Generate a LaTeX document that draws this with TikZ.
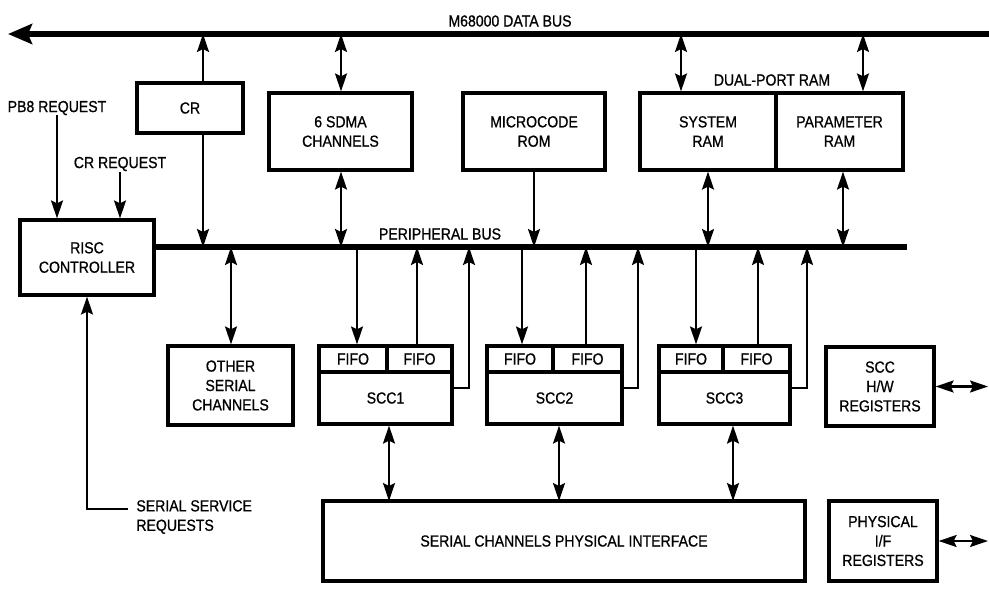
\documentclass[tikz,border=0pt]{standalone}
\usepackage{fontspec}
\setmainfont{Liberation Sans}[FakeStretch=0.88, FakeBold=0.8]
\usetikzlibrary{arrows.meta}

\tikzstyle{block} = [draw, line width=1.6pt, inner sep=0pt, align=center]
\tikzstyle{fifo} = [block, minimum height=13pt]
\tikzstyle{txt} = [inner sep=0pt, align=left]
\tikzstyle{bus} = [line width=2.6pt]
\tikzstyle{wire} = [line width=1.1pt]

\begin{document}
\begin{tikzpicture}[x=0.5pt, y=-0.5pt, font=\fontsize{8}{9.7}\selectfont,
    >={Stealth[length=9pt, width=6pt, inset=1.5pt]}]
  \useasboundingbox (0,0) rectangle (989,594);

  % top row
  \node[block, minimum width=53pt, minimum height=25pt] (cr) at (190,108) {CR};
  \node[block, minimum width=71.5pt, minimum height=38.5pt] (sdma) at (340.5,131.5) {6 SDMA\\CHANNELS};
  \node[block, minimum width=71pt, minimum height=38.5pt] (rom) at (534,131.5) {MICROCODE\\ROM};
  \node[block, minimum width=68pt, minimum height=38.5pt] (sysram) at (708,131.5) {SYSTEM\\RAM};
  \node[block, minimum width=63.5pt, minimum height=38.5pt] (parram) at (839.5,131.5) {PARAMETER\\RAM};

  % controller and serial channels
  \node[block, minimum width=67pt, minimum height=37.5pt] (risc) at (87,257.5) {RISC\\CONTROLLER};
  \node[block, minimum width=62.5pt, minimum height=39.5pt] (other) at (230.5,385.5) {OTHER\\SERIAL\\CHANNELS};

  \node[fifo, minimum width=34pt] (f1a) at (353,359) {FIFO};
  \node[fifo, minimum width=32.5pt] (f1b) at (419.5,359) {FIFO};
  \node[block, minimum width=66.5pt, minimum height=26pt] (s1) at (385.5,398) {SCC1};
  \node[fifo, minimum width=33pt] (f2a) at (520,359) {FIFO};
  \node[fifo, minimum width=34.5pt] (f2b) at (587.5,359) {FIFO};
  \node[block, minimum width=67.5pt, minimum height=26pt] (s2) at (554.5,398) {SCC2};
  \node[fifo, minimum width=32pt] (f3a) at (691,359) {FIFO};
  \node[fifo, minimum width=33.5pt] (f3b) at (756.5,359) {FIFO};
  \node[block, minimum width=65.5pt, minimum height=26pt] (s3) at (724.5,398) {SCC3};

  \node[block, minimum width=54pt, minimum height=39.5pt] (hw) at (880,386.5) {SCC\\H/W\\REGISTERS};
  \node[block, minimum width=241pt, minimum height=40pt] (spi) at (564,541) {SERIAL CHANNELS PHYSICAL INTERFACE};
  \node[block, minimum width=54pt, minimum height=40pt] (pif) at (883,541) {PHYSICAL\\I/F\\REGISTERS};

  % texts
  \node[txt] (dbtxt) at (510,21) {M68000 DATA BUS};
  \node[txt] (pbtxt) at (440,234) {PERIPHERAL BUS};
  \node[txt] (dptxt) at (772,80) {DUAL-PORT RAM};
  \node[txt] (pb8) at (57,108) {PB8 REQUEST};
  \node[txt] (crreq) at (120,164) {CR REQUEST};
  \node[txt, anchor=west] (ssr) at (136,517) {SERIAL SERVICE\\REQUESTS};

  % buses
  \coordinate (dbL) at (8,34);
  \coordinate (dbR) at (989,34);
  \coordinate (pbR) at (907,247);
  \draw[bus, -{Stealth[length=12pt, width=10pt, inset=2pt]}] (dbR) -- (dbL);
  \draw[bus] (risc.east |- pbR) -- (pbR);

  % taps on the data bus
  \coordinate (crD) at (203,34);
  \coordinate (sdmaD) at (341,34);
  \coordinate (sysD) at (681,34);
  \coordinate (parD) at (863,34);
  % taps on the peripheral bus
  \coordinate (crP) at (203,247);
  \coordinate (sdmaP) at (341,247);
  \coordinate (romP) at (534,247);
  \coordinate (sysP) at (708,247);
  \coordinate (parP) at (843,247);
  \coordinate (otherP) at (231,247);
  \coordinate (s1in) at (357,247);
  \coordinate (s1out) at (417,247);
  \coordinate (s1r) at (469,247);
  \coordinate (s2in) at (522,247);
  \coordinate (s2out) at (586,247);
  \coordinate (s2r) at (638,247);
  \coordinate (s3in) at (696,247);
  \coordinate (s3out) at (758,247);
  \coordinate (s3r) at (807,247);
  % taps on the physical interface
  \coordinate (s1ph) at (389,501);
  \coordinate (s2ph) at (559,501);
  \coordinate (s3ph) at (733,501);
  \coordinate (edge) at (988,0);
  \coordinate (ssrin) at (128,509);

  \draw[wire, ->] (cr.north -| crD) -- (crD);
  \draw[wire, ->] (cr.south -| crP) -- (crP);
  \draw[wire, <->] (sdma.north -| sdmaD) -- (sdmaD);
  \draw[wire, <->] (sdma.south -| sdmaP) -- (sdmaP);
  \draw[wire, ->] (rom.south -| romP) -- (romP);
  \draw[wire, <->] (sysram.north -| sysD) -- (sysD);
  \draw[wire, <->] (sysram.south -| sysP) -- (sysP);
  \draw[wire, <->] (parram.north -| parD) -- (parD);
  \draw[wire, <->] (parram.south -| parP) -- (parP);

  \draw[wire, ->] (pb8.south) -- (pb8.south |- risc.north);
  \draw[wire, ->] (crreq.south) -- (crreq.south |- risc.north);
  \draw[wire, ->] (ssrin) -| (risc.south);

  \draw[wire, <->] (otherP) -- (other.north -| otherP);
  \draw[wire, ->] (s1in) -- (f1a.north -| s1in);
  \draw[wire, ->] (f1b.north -| s1out) -- (s1out);
  \draw[wire, ->] ([yshift=5pt]s1.east) -| (s1r);
  \draw[wire, ->] (s2in) -- (f2a.north -| s2in);
  \draw[wire, ->] (f2b.north -| s2out) -- (s2out);
  \draw[wire, ->] ([yshift=5pt]s2.east) -| (s2r);
  \draw[wire, ->] (s3in) -- (f3a.north -| s3in);
  \draw[wire, ->] (f3b.north -| s3out) -- (s3out);
  \draw[wire, ->] ([yshift=5pt]s3.east) -| (s3r);

  \draw[wire, <->] (s1.south -| s1ph) -- (s1ph);
  \draw[wire, <->] (s2.south -| s2ph) -- (s2ph);
  \draw[wire, <->] (s3.south -| s3ph) -- (s3ph);

  \draw[wire, <->] (hw.east) -- (hw.east -| edge);
  \draw[wire, <->] (pif.east) -- (pif.east -| edge);
\end{tikzpicture}
\end{document}
